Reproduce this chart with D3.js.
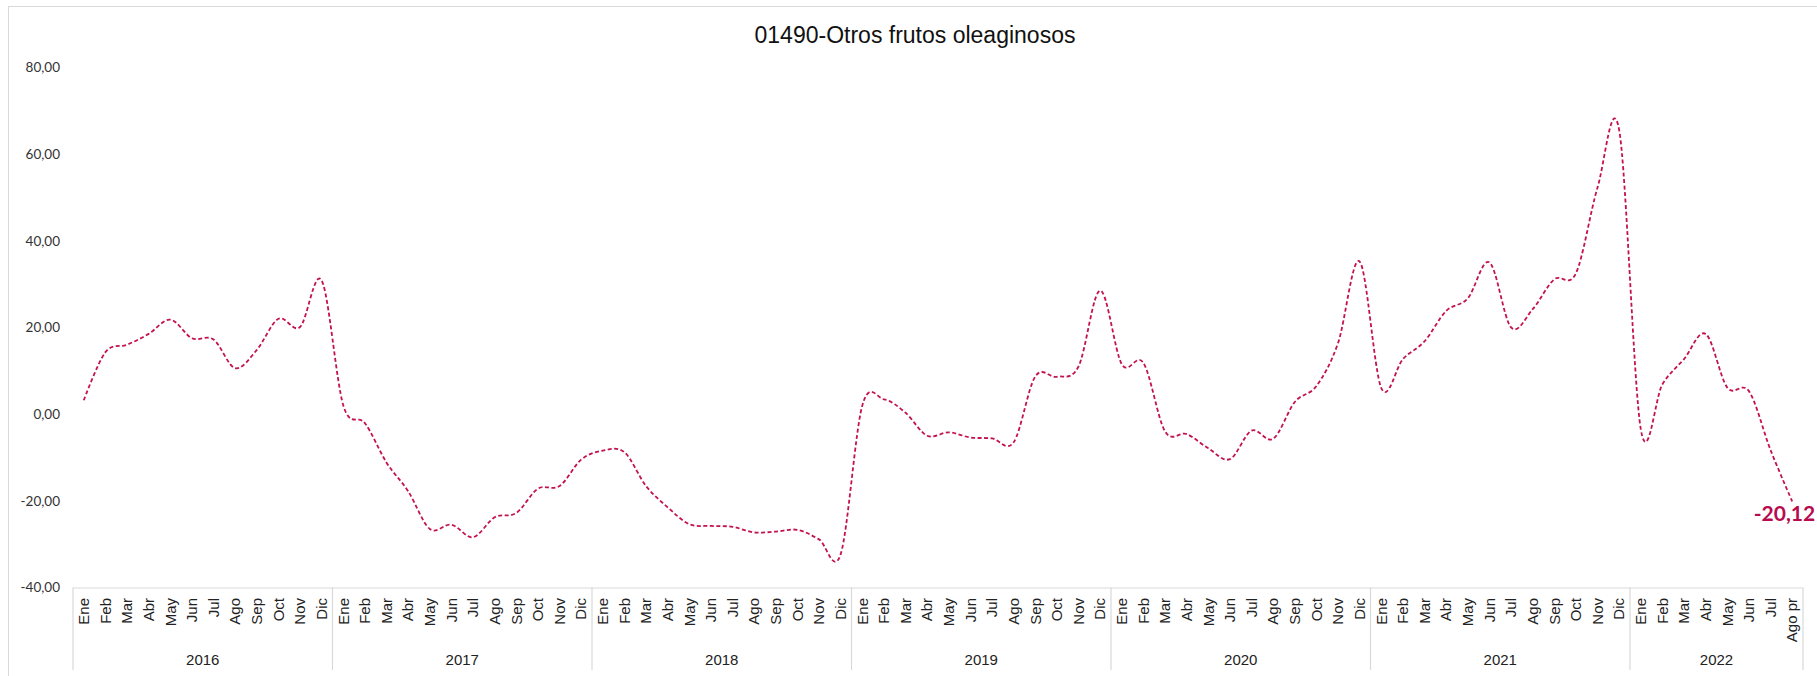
<!DOCTYPE html>
<html>
<head>
<meta charset="utf-8">
<script src="https://cdn.jsdelivr.net/npm/d3@7"></script>
<style>
  body { margin: 0; background: #fff; }
  svg { display: block; }
</style>
</head>
<body>
<script>
// chart data
var years = ['2016', '2017', '2018', '2019', '2020', '2021', '2022'];
var monthNames = ['Ene', 'Feb', 'Mar', 'Abr', 'May', 'Jun', 'Jul', 'Ago', 'Sep', 'Oct', 'Nov', 'Dic'];
var lastYearMonths = ['Ene', 'Feb', 'Mar', 'Abr', 'May', 'Jun', 'Jul', 'Ago pr'];
var yTicks = [-40, -20, 0, 20, 40, 60, 80];
var title = '01490-Otros frutos oleaginosos';

var values2016 = [3.2, 14.3, 16.0, 18.5, 21.8, 17.5, 17.2, 10.6, 14.8, 22.0, 20.1, 30.8];
var values2017 = [2.0, -2.1, -11.2, -17.8, -26.5, -25.5, -28.4, -23.8, -22.8, -17.2, -16.6, -10.5];
var values2018 = [-8.4, -8.8, -16.6, -21.5, -25.4, -25.8, -26.0, -27.3, -27.1, -26.7, -28.9, -32.3];
var values2019 = [2.0, 3.4, 0.3, -5.0, -4.2, -5.4, -5.6, -6.5, 8.7, 8.6, 11.0, 28.5];
var values2020 = [11.5, 11.8, -4.0, -4.6, -7.9, -10.4, -3.8, -5.7, 2.8, 6.5, 16.4, 35.2];
var values2021 = [6.0, 12.7, 16.8, 23.8, 26.7, 35.0, 20.0, 24.2, 31.1, 32.5, 52.3, 65.5];
var values2022 = [-3.5, 6.9, 12.7, 18.5, 6.1, 5.3, -8.3, -20.12];

var yearValues = [values2016, values2017, values2018, values2019, values2020, values2021, values2022];

// flatten into one row per month
var data = [];
years.forEach(function(yr, yi) {
  var labels = yi === years.length - 1 ? lastYearMonths : monthNames;
  yearValues[yi].forEach(function(v, mi) {
    data.push({ key: yr + '-' + mi, year: yr, month: labels[mi], value: v });
  });
});

var width = 1817, height = 676;
var plotLeft = 73, plotRight = 1803, plotTop = 67.3, plotBottom = 587.5;
var lineColor = '#C4124F';
var labelColor = '#B80A4E';

// spanish number format, plain hyphen for negatives
var locale = d3.formatLocale({ decimal: ',', thousands: '.', grouping: [3], currency: ['', '€'], minus: '-' });
var fmt = locale.format('.2f');

var svg = d3.select('body').append('svg').attr('width', width).attr('height', height);

// outer chart border
svg.append('rect').attr('x', 8.5).attr('y', 6.5).attr('width', width + 20).attr('height', height + 20)
  .attr('fill', 'none').attr('stroke', '#D9D9D9');

svg.append('text').attr('x', 915).attr('y', 43).attr('text-anchor', 'middle')
  .style('font-family', '"Liberation Sans", Arial, sans-serif').style('font-size', '23px').style('fill', '#111')
  .text(title);

var x = d3.scaleBand().domain(data.map(function(d) { return d.key; })).range([plotLeft, plotRight]).padding(0);
var y = d3.scaleLinear().domain([-40, 80]).range([plotBottom, plotTop]);

// y axis: labels only
var yAxis = svg.append('g').attr('transform', 'translate(' + 60 + ',0)')
  .call(d3.axisLeft(y).tickValues(yTicks).tickFormat(fmt).tickSize(0).tickPadding(0));
yAxis.select('.domain').remove();
yAxis.selectAll('text')
  .style('font-family', 'Lato, "Noto Sans", sans-serif').style('font-size', '13.5px').style('fill', '#333');

// x axis line
svg.append('line').attr('x1', plotLeft).attr('x2', plotRight).attr('y1', plotBottom + 0.5).attr('y2', plotBottom + 0.5)
  .attr('stroke', '#D9D9D9').attr('stroke-width', 1.2);

// year separators
var boundaries = [0];
var count = 0;
yearValues.forEach(function(v) { count += v.length; boundaries.push(count); });
var sepX = function(b) { return b < data.length ? x(data[b].key) : plotRight; };
svg.selectAll('.sep').data(boundaries).enter().append('line').attr('class', 'sep')
  .attr('x1', sepX).attr('x2', sepX)
  .attr('y1', plotBottom).attr('y2', 670)
  .attr('stroke', '#D9D9D9').attr('stroke-width', 1.2);

// month labels, rotated
svg.selectAll('.month').data(data).enter().append('text').attr('class', 'month')
  .attr('transform', function(d) { return 'translate(' + (x(d.key) + x.bandwidth() / 2) + ',' + 598 + ') rotate(-90)'; })
  .attr('dy', '0.35em').attr('text-anchor', 'end')
  .style('font-family', '"Liberation Sans", Arial, sans-serif').style('font-size', '15px').style('fill', '#222')
  .text(function(d) { return d.month; });

// year labels, centered under their months
svg.selectAll('.year').data(years).enter().append('text').attr('class', 'year')
  .attr('x', function(yr, i) { return (sepX(boundaries[i]) + sepX(boundaries[i + 1])) / 2; })
  .attr('y', 665).attr('text-anchor', 'middle')
  .style('font-family', '"Liberation Sans", Arial, sans-serif').style('font-size', '15px').style('fill', '#222')
  .text(function(yr) { return yr; });

// the smoothed dashed line
var line = d3.line()
  .x(function(d) { return x(d.key) + x.bandwidth() / 2; })
  .y(function(d) { return y(d.value); })
  .curve(d3.curveCatmullRom.alpha(0));

svg.append('path').datum(data).attr('d', line)
  .attr('fill', 'none').attr('stroke', lineColor).attr('stroke-width', 1.8)
  .attr('stroke-dasharray', '4,2.5');

// value label on the last point
var last = data[data.length - 1];
svg.append('text')
  .attr('x', x(last.key) + x.bandwidth() / 2 + 23).attr('y', y(last.value) + 20)
  .attr('text-anchor', 'end')
  .style('font-family', 'Lato, "Noto Sans", sans-serif').style('font-weight', 'bold').style('font-size', '21px')
  .style('fill', labelColor)
  .text(fmt(last.value));
</script>
</body>
</html>
